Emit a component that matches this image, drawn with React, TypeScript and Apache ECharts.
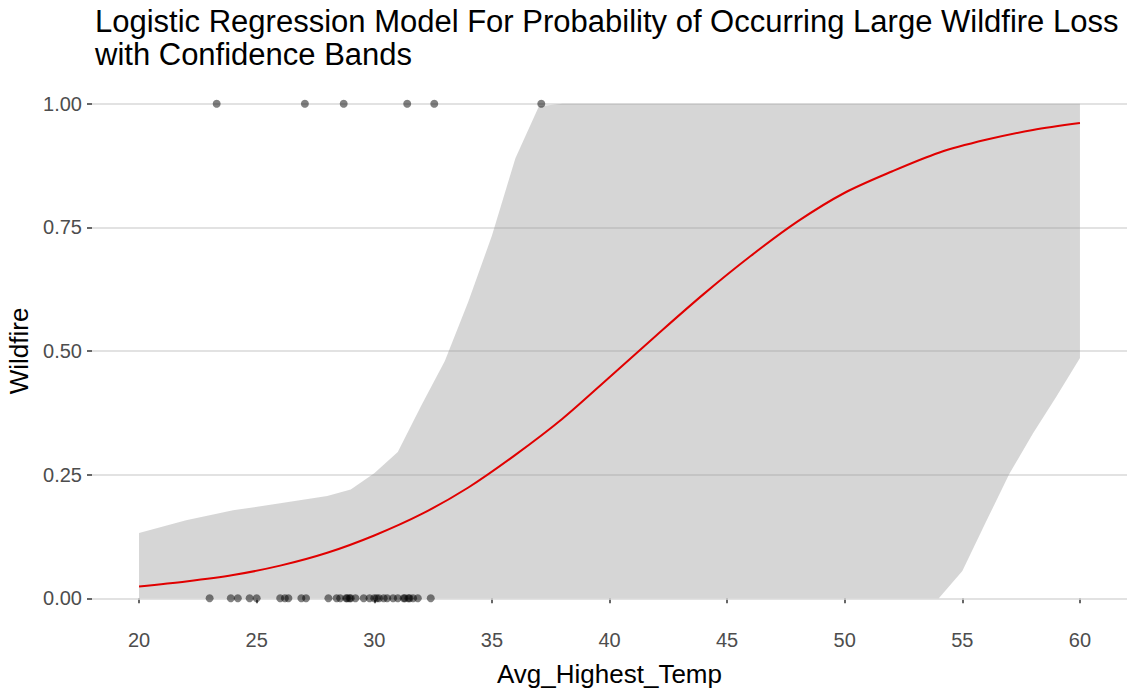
import React, { useEffect, useRef } from "react";
import * as echarts from "echarts";

// Fitted logistic curve
const curveX = [20, 22, 24, 26, 28, 30, 32, 34, 36, 38, 40, 42, 44, 46, 48, 50, 52, 54, 56, 58, 60];
const curveP = [0.024, 0.034, 0.047, 0.066, 0.092, 0.127, 0.17, 0.224, 0.29, 0.363, 0.447, 0.532, 0.615, 0.692, 0.762, 0.82, 0.863, 0.901, 0.927, 0.947, 0.961];

// Confidence band
const bandX = [20, 22, 24, 26, 28, 29, 30, 31, 32, 33, 34, 35, 36, 37, 38, 40, 45, 50, 54, 55, 56, 57, 58, 59, 60];
const bandUpper = [0.132, 0.158, 0.178, 0.192, 0.207, 0.22, 0.253, 0.296, 0.39, 0.48, 0.6, 0.733, 0.89, 0.995, 1, 1, 1, 1, 1, 1, 1, 1, 1, 1, 1];
const bandLower = [0, 0, 0, 0, 0, 0, 0, 0, 0, 0, 0, 0, 0, 0, 0, 0, 0, 0, 0, 0.055, 0.154, 0.252, 0.333, 0.408, 0.486];

// Observations
const obsZeroX = [23.0, 23.9, 24.2, 24.7, 25.0, 26.0, 26.2, 26.35, 26.9, 27.1, 28.05, 28.4, 28.55, 28.8, 28.85, 28.95, 29.0, 29.2, 29.55, 29.8, 30.0, 30.1, 30.2, 30.4, 30.55, 30.8, 31.0, 31.25, 31.3, 31.45, 31.5, 31.65, 31.85, 32.4];
const obsOneX = [23.3, 27.05, 28.7, 31.4, 32.55, 37.1];

const xTicks = [20, 25, 30, 35, 40, 45, 50, 55, 60];
const yTicks = [0, 0.25, 0.5, 0.75, 1];

const FONT = "Liberation Sans, Arial, sans-serif";

export default function App() {
  const ref = useRef<HTMLDivElement>(null);
  useEffect(() => {
    if (!ref.current) return;
    const chart = echarts.init(ref.current, undefined, { renderer: "svg" });
    const bandData = bandX.map((x, i) => [x, bandLower[i], bandUpper[i]]);
    const points = [
      ...obsZeroX.map((x) => [x, 0]),
      ...obsOneX.map((x) => [x, 1]),
    ];
    chart.setOption({
      animation: false,
      backgroundColor: "#ffffff",
      title: {
        text: "Logistic Regression Model For Probability of Occurring Large Wildfire Loss\nwith Confidence Bands",
        left: 90,
        top: 0,
        textStyle: {
          fontFamily: FONT,
          fontSize: 31,
          fontWeight: "normal",
          color: "#000000",
          lineHeight: 33,
        },
      },
      grid: { left: 92, right: 4, top: 79, bottom: 66, containLabel: false, outerBoundsMode: "none" },
      xAxis: {
        type: "value",
        min: 18,
        max: 62,
        name: "Avg_Highest_Temp",
        nameLocation: "middle",
        nameGap: 38,
        nameTextStyle: { fontFamily: FONT, fontSize: 26, color: "#000000" },
        axisLine: { show: false },
        axisTick: { show: true, length: 5, customValues: xTicks, lineStyle: { color: "#333333", width: 1.5 } },
        axisLabel: { customValues: xTicks, fontFamily: FONT, fontSize: 20, color: "#4d4d4d", margin: 7 },
        splitLine: { show: false },
      },
      yAxis: {
        type: "value",
        min: -0.05,
        max: 1.05,
        name: "Wildfire",
        nameLocation: "middle",
        nameGap: 57,
        nameRotate: 90,
        nameTextStyle: { fontFamily: FONT, fontSize: 26, color: "#000000" },
        axisLine: { show: false },
        axisTick: { show: true, length: 5, customValues: yTicks, lineStyle: { color: "#333333", width: 1.5 } },
        axisLabel: {
          customValues: yTicks,
          fontFamily: FONT,
          fontSize: 20,
          color: "#4d4d4d",
          margin: 10,
          formatter: (v: number) => v.toFixed(2),
        },
        splitLine: { show: false },
      },
      series: [
        {
          type: "line",
          data: [],
          z: 1,
          silent: true,
          markLine: {
            z: 1,
            silent: true,
            symbol: "none",
            label: { show: false },
            lineStyle: { color: "#d9d9d9", width: 1.5, type: "solid" },
            data: yTicks.map((v) => ({ yAxis: v })),
          },
        },
        {
          type: "custom",
          z: 2,
          silent: true,
          data: bandData,
          encode: { x: 0, y: [1, 2] },
          renderItem: (params: any, api: any) => {
            if (params.dataIndex !== 0) return null;
            const upperPts = bandData.map((d) => api.coord([d[0], d[2]]));
            const lowerPts = bandData.map((d) => api.coord([d[0], d[1]])).reverse();
            return {
              type: "polygon",
              shape: { points: [...upperPts, ...lowerPts] },
              style: { fill: "rgba(153,153,153,0.4)", stroke: "none" },
            };
          },
        },
        {
          type: "line",
          z: 3,
          data: curveX.map((x, i) => [x, curveP[i]]),
          showSymbol: false,
          smooth: 0.3,
          lineStyle: { color: "#e00000", width: 2 },
          silent: true,
        },
        {
          type: "scatter",
          z: 4,
          data: points,
          symbolSize: 8,
          itemStyle: { color: "rgba(0,0,0,0.62)" },
          silent: true,
        },
      ],
    });
    return () => chart.dispose();
  }, []);
  return <div ref={ref} style={{ width: 1131, height: 689, position: "absolute", left: 0, top: 0 }} />;
}
